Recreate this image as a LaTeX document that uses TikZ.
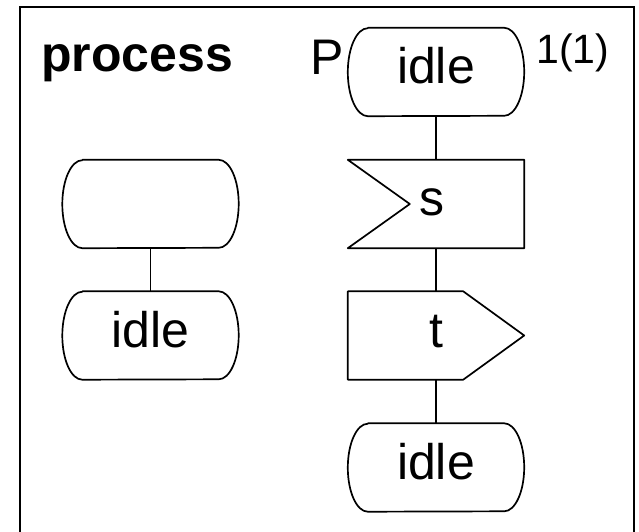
\documentclass[tikz,border=0pt]{standalone}
\usepackage{fontspec}
\setmainfont{Liberation Sans}
\begin{document}
\begin{tikzpicture}[x=1pt,y=-1pt,
  shp/.style={line width=1.7pt, line join=round},
  box/.style={rectangle, inner sep=0pt, minimum width=176pt, minimum height=88pt,
    font=\fontsize{50}{60}\selectfont, text height=33pt, text depth=10pt},
  lbl/.style={inner sep=0pt, anchor=base west}]
\useasboundingbox (0,0) rectangle (639,532);
% frame
\draw[line width=1.7pt] (634,560) -- (634,7) -- (20,7) -- (20,560);
% labels
\node[lbl, font=\fontsize{50}{60}\selectfont\bfseries] (title) at (41,72) {process};
\node[lbl, font=\fontsize{50}{60}\selectfont] (pname) at (310,75) {P};
\node[lbl, font=\fontsize{41}{48}\selectfont] (page) at (536,64) {1(1)};
% nodes
\node[box] (st) at (150.5,204) {};
\node[box] (idleL) at (150.5,335.5) {idle};
\node[box] (p0) at (436,72) {idle};
\node[box] (s) at (436,204) {};
\node[font=\fontsize{50}{60}\selectfont, inner sep=0pt, text height=33pt, text depth=10pt] (stxt) at (432,204) {s};
\node[box] (t) at (436,335.5) {t};
\node[box] (idleB) at (436,467.5) {idle};
% state shapes
\foreach \n in {st,idleL,p0,idleB}{
  \draw[shp] ([xshift=20pt]\n.north west) -- ([xshift=-20pt]\n.north east)
    arc[start angle=90, end angle=-90, x radius=20pt, y radius=44pt]
    -- ([xshift=20pt]\n.south west)
    arc[start angle=270, end angle=90, x radius=20pt, y radius=44pt] -- cycle;
}
% input
\draw[shp] (s.north west) -- (s.north east) -- (s.south east) -- (s.south west) -- ([xshift=62pt]s.west) -- cycle;
% output
\draw[shp] (t.north west) -- ([xshift=-61pt]t.north east) -- (t.east) -- ([xshift=-61pt]t.south east) -- (t.south west) -- cycle;
% connectors
\draw[shp] (st.south) -- (idleL.north);
\draw[shp] (p0.south) -- (s.north);
\draw[shp] (s.south) -- (t.north);
\draw[shp] (t.south) -- (idleB.north);
\end{tikzpicture}
\end{document}
